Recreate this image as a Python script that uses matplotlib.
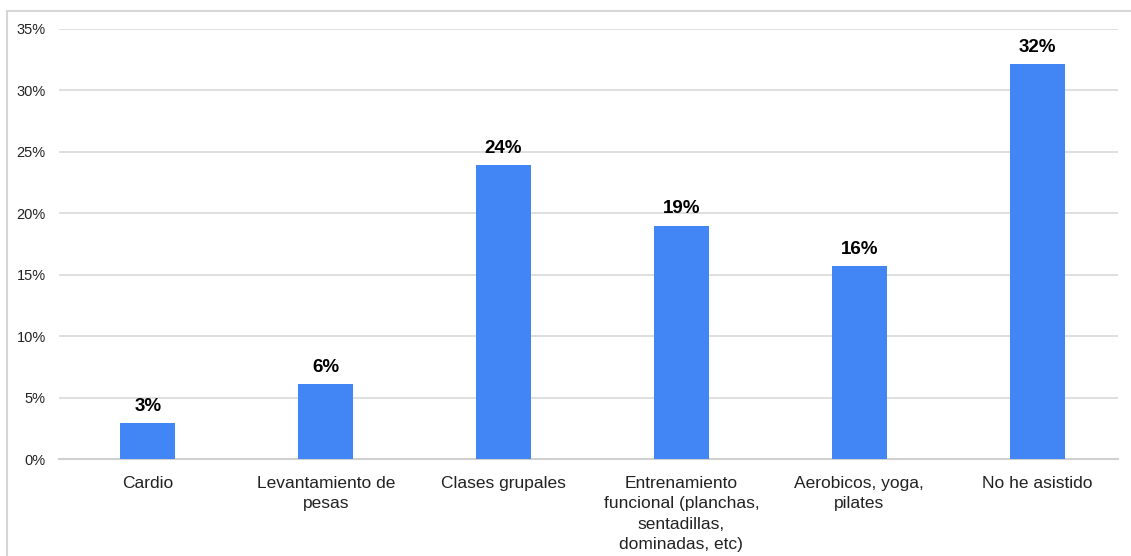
import matplotlib.pyplot as plt
from matplotlib.patches import Rectangle
from matplotlib.ticker import FuncFormatter

plt.rcParams['font.family'] = ['Liberation Sans', 'DejaVu Sans']

categories = [
    'Cardio',
    'Levantamiento de\npesas',
    'Clases grupales',
    'Entrenamiento\nfuncional (planchas,\nsentadillas,\ndominadas, etc)',
    'Aerobicos, yoga,\npilates',
    'No he asistido',
]
values = [2.95, 6.1, 23.9, 19.0, 15.7, 32.1]
value_labels = ['3%', '6%', '24%', '19%', '16%', '32%']
yticks = [0, 5, 10, 15, 20, 25, 30, 35]

fig = plt.figure(figsize=(11.31, 5.56), dpi=100)
fig.patch.set_facecolor('white')

# light frame around the chart
frame = Rectangle((7 / 1131, -0.2), 1.2, 1.2 - 11 / 556,
                  transform=fig.transFigure, fill=False,
                  edgecolor='#d6d6d6', linewidth=1.5, zorder=0)
fig.patches.append(frame)

ax = fig.add_axes([59 / 1131, 1 - 459.3 / 556, (1118 - 59) / 1131, (459.3 - 28.8) / 556])

x = list(range(len(categories)))
bars = ax.bar(x, values, width=0.31, color='#4285F4', zorder=3)

for b, lab in zip(bars, value_labels):
    ax.annotate(lab, (b.get_x() + b.get_width() / 2, b.get_height()),
                xytext=(0, 6), textcoords='offset points',
                ha='center', va='bottom', fontsize=13.5, fontweight='bold',
                color='#000000')

ax.set_xlim(-0.5, len(categories) - 0.545)
ax.set_ylim(0, 35)
ax.set_yticks(yticks)
ax.yaxis.set_major_formatter(FuncFormatter(lambda v, p: f'{v:.0f}%'))
ax.grid(axis='y', color='#d9d9d9', linewidth=1.2, zorder=0)
ax.set_xticks(x)
ax.set_xticklabels(categories, fontsize=12.5, color='#222222', linespacing=1.45)
ax.tick_params(axis='x', length=0, pad=12)
ax.tick_params(axis='y', length=0, pad=9.5, labelsize=10.5, labelcolor='#222222')

for s in ['top', 'right', 'left']:
    ax.spines[s].set_visible(False)
ax.spines['bottom'].set_color('#d0d0d0')
ax.spines['bottom'].set_linewidth(1.5)

fig.savefig('out.png', dpi=100)
